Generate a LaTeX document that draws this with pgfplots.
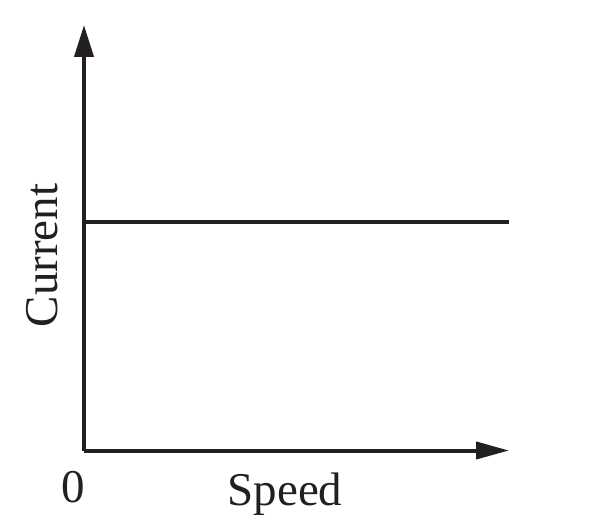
\documentclass[border=0pt]{standalone}
\usepackage{pgfplots}
\pgfplotsset{compat=1.18}
\usetikzlibrary{arrows.meta}
\usepackage{fontspec}
\setmainfont{Liberation Serif}
\definecolor{ink}{HTML}{231F20}
\begin{document}
\begin{tikzpicture}
\path[use as bounding box] (-84pt,-77.5pt) rectangle (507pt,450.5pt);
\begin{axis}[
  at={(0pt,0pt)}, anchor=origin,
  scale only axis, width=425pt, height=425.5pt,
  xmin=0, xmax=1, ymin=0, ymax=1,
  axis lines=left,
  xtick=\empty, ytick=\empty,
  axis line style={line width=4pt, draw=ink},
  every outer x axis line/.append style={-{Triangle[length=33pt,width=17pt]}, ink, line width=4pt},
  every outer y axis line/.append style={-{Triangle[length=32pt,width=19pt]}, ink, line width=4pt},
  clip=false,
]
\addplot[ink, line width=3.6pt] coordinates {(0,0.537) (1,0.537)};
\end{axis}
\fontsize{47}{50}\selectfont
\node[anchor=base, inner sep=0pt, text=ink] at (-11pt,-51.5pt) {0};
\node[anchor=base, inner sep=0pt, text=ink] at (201pt,-55pt) {Speed};
\node[anchor=base, inner sep=0pt, rotate=90, text=ink] at (-26pt,195pt) {Current};
\end{tikzpicture}
\end{document}
